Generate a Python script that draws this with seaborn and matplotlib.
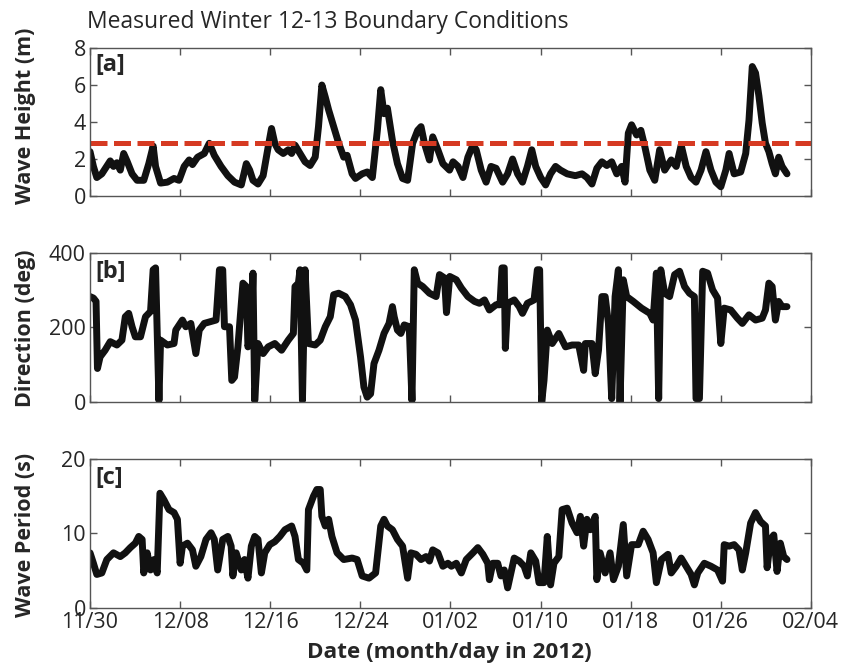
import numpy as np
import pandas as pd
import matplotlib
matplotlib.use("Agg")
import matplotlib.pyplot as plt
import seaborn as sns

# Days since 11/30 and measured values
hs_day = [0.00, 0.31, 0.62, 1.08, 1.85, 2.15, 2.46, 2.77, 3.08, 3.38, 3.85, 4.31, 4.92, 5.38,
          5.78, 6.00, 6.46, 7.08, 7.69, 8.15, 8.62, 9.08, 9.38, 9.85, 10.46, 10.92, 11.38,
          12.00, 12.62, 13.23, 13.85, 14.31, 14.62, 14.92, 15.38, 15.85, 16.31, 16.62, 16.92,
          17.23, 17.69, 18.15, 18.46, 18.77, 19.23, 19.69, 20.15, 20.62, 20.92, 21.23, 21.54,
          21.85, 22.31, 22.77, 23.23, 23.54, 24.00, 24.31, 24.92, 25.38, 25.85, 26.31, 26.62,
          26.92, 27.23, 27.69, 28.15, 28.62, 29.08, 29.54, 30.00, 30.31, 30.62, 31.08, 31.38,
          31.85, 32.31, 32.92,
          33.24, 33.70, 34.15, 34.60, 35.06, 35.36, 35.82, 36.27, 36.72, 37.18, 37.78, 38.24,
          38.69, 39.15, 39.60, 40.05, 40.45, 40.81, 41.27, 41.72, 42.17, 42.63, 43.08, 43.69,
          44.44, 45.05, 45.50, 45.96, 46.41, 46.87, 47.32, 47.77, 48.23, 48.68, 48.99, 49.29,
          49.59, 50.05, 50.44, 50.81, 51.26, 51.71, 52.16, 52.62, 53.22, 53.68, 54.13, 54.59,
          55.04, 55.49, 55.95, 56.40, 56.86, 57.31, 57.76, 58.22, 58.52, 58.98, 59.58, 60.04,
          60.34, 60.64, 60.94, 61.25, 61.55, 61.85, 62.16, 62.46, 62.76, 63.06, 63.37, 63.82]
hs_m = [2.4, 1.6, 1.0, 1.2, 1.9, 1.6, 1.8, 1.4, 2.3, 1.9, 1.2, 0.85, 0.85, 1.75,
        2.7, 1.6, 0.7, 0.75, 0.95, 0.85, 1.6, 1.95, 1.7, 2.1, 2.3, 2.85, 2.2,
        1.6, 1.1, 0.75, 0.6, 1.75, 1.4, 0.85, 0.65, 1.1, 2.65, 3.65, 2.85,
        2.5, 2.3, 2.5, 2.3, 2.75, 2.3, 1.85, 1.65, 2.1, 3.75, 6.0, 5.35,
        4.65, 3.75, 2.85, 2.1, 2.2, 1.2, 0.95, 1.2, 1.3, 1.0, 3.55, 5.75,
        4.45, 4.75, 3.0, 1.75, 0.95, 0.85, 2.85, 3.55, 3.75, 2.85, 1.95, 3.2,
        2.5, 1.75, 1.4,
        1.85, 1.6, 1.0, 2.1, 2.75, 2.5, 1.4, 0.75, 1.6, 1.5, 0.75, 1.2,
        2.0, 1.2, 0.75, 1.6, 2.5, 1.6, 1.0, 0.6, 1.2, 1.6, 1.4, 1.2,
        1.1, 1.2, 1.0, 0.65, 1.5, 1.85, 1.65, 1.85, 1.2, 1.6, 0.75, 3.4,
        3.85, 3.3, 3.55, 2.65, 1.4, 0.85, 2.5, 1.4, 1.95, 1.6, 2.75, 1.6,
        1.0, 0.75, 1.4, 2.4, 1.4, 0.75, 0.5, 1.4, 2.3, 1.2, 1.3, 2.3,
        4.1, 7.0, 6.65, 5.4, 3.95, 2.85, 2.4, 1.75, 1.2, 2.1, 1.6, 1.2]

dir_day = [0.00, 0.31, 0.55, 0.68, 0.92, 1.38, 1.85, 2.46, 2.92, 3.23, 3.54, 3.85, 4.15, 4.62,
           5.08, 5.54, 5.78, 6.00, 6.15, 6.31, 6.46, 7.08, 7.69, 7.85, 8.46, 8.77, 9.23, 9.69,
           10.00, 10.46, 11.08, 11.54, 11.85, 12.15, 12.31, 12.77, 12.98, 13.23, 13.54, 14.00,
           14.31, 14.46, 14.77, 14.92, 15.08, 15.38, 15.85, 16.31, 16.92, 17.54, 18.15, 18.62,
           18.77, 19.08, 19.23, 19.45, 19.69, 20.00, 20.62, 21.08, 21.54, 22.00, 22.31, 22.77,
           23.38, 23.85, 24.31, 24.77, 25.08, 25.38, 25.69, 26.00, 26.46, 26.92, 27.38, 27.69,
           27.85, 28.15, 28.46, 28.77, 29.23, 29.48, 29.69, 30.00, 30.46, 31.08, 31.69, 32.00,
           32.46, 32.64, 32.94,
           33.54, 34.00, 34.60, 35.21, 35.66, 36.12, 36.57, 37.18, 37.54, 37.72, 37.93, 38.03,
           38.24, 38.84, 39.30, 39.60, 40.05, 40.66, 40.96, 41.17, 41.36, 41.57, 41.87, 42.32,
           42.93, 43.54, 44.14, 44.75, 45.20, 45.35, 45.96, 46.26, 46.56, 46.87, 47.17, 47.47,
           47.77, 48.08, 48.38, 48.53, 48.83, 49.14, 49.74, 50.50, 51.26, 51.56, 51.86, 52.07,
           52.26, 52.62, 53.07, 53.53, 53.98, 54.44, 54.89, 55.34, 55.49, 55.80, 56.10, 56.55,
           57.01, 57.46, 57.76, 58.07, 58.67, 59.28, 59.73, 60.34, 60.94, 61.55, 61.85, 62.16,
           62.46, 62.76, 63.06, 63.37, 63.82]
dir_deg = [283, 279, 270, 90, 121, 139, 162, 153, 166, 229, 238, 202, 175, 175,
           229, 243, 355, 360, 193, 4, 166, 153, 157, 193, 220, 202, 211, 130,
           193, 211, 216, 220, 355, 355, 202, 202, 58, 67, 148, 319,
           310, 148, 193, 346, 4, 157, 130, 148, 157, 139, 166, 184,
           310, 319, 355, 4, 355, 157, 153, 166, 202, 229, 288, 292,
           283, 261, 220, 121, 40, 13, 22, 103, 139, 184, 211, 256,
           229, 193, 184, 207, 202, 4, 355, 319, 310, 292, 283, 342,
           333, 240, 337,
           328, 306, 283, 270, 265, 274, 247, 261, 261, 360, 360, 144,
           265, 274, 256, 238, 265, 274, 355, 355, 0, 58, 193, 157,
           184, 148, 153, 153, 85, 157, 157, 76, 139, 283, 283, 211,
           9, 283, 355, 0, 328, 283, 270, 252, 238, 220, 346, 9,
           355, 292, 283, 342, 351, 310, 292, 283, 9, 9, 351, 346,
           301, 279, 157, 252, 247, 225, 211, 234, 220, 225, 247, 319,
           310, 220, 270, 256, 256]

tp_day = [0.00, 0.31, 0.62, 1.08, 1.54, 2.15, 2.77, 3.23, 3.69, 4.15, 4.46, 4.77, 4.92, 5.23,
          5.54, 5.85, 6.15, 6.40, 6.77, 7.23, 7.69, 8.00, 8.25, 8.46, 8.92, 9.38, 9.69, 10.15,
          10.62, 11.08, 11.38, 11.69, 12.15, 12.62, 12.92, 13.08, 13.38, 13.85, 14.15, 14.46,
          14.77, 15.08, 15.38, 15.69, 16.00, 16.46, 16.92, 17.38, 17.85, 18.46, 18.77, 19.08,
          19.54, 19.85, 20.00, 20.46, 20.77, 21.08, 21.23, 21.54, 21.85, 22.15, 22.62, 23.23,
          24.00, 24.46, 24.92, 25.54, 26.15, 26.62, 26.92, 27.23, 27.69, 28.15, 28.62, 29.08,
          29.38, 29.85, 30.31, 30.77, 31.08, 31.38, 31.85, 32.31, 32.77,
          33.09, 33.54, 34.00, 34.45, 35.06, 35.51, 35.97, 36.42, 36.57, 36.88, 37.33, 37.63,
          37.93, 38.24, 38.54, 38.84, 39.30, 39.75, 40.05, 40.36, 40.81, 41.11, 41.57, 41.87,
          42.17, 42.48, 42.93, 43.23, 43.69, 44.14, 44.60, 44.90, 45.20, 45.50, 45.81, 46.26,
          46.41, 46.71, 47.17, 47.62, 47.93, 48.38, 48.83, 49.14, 49.59, 50.20, 50.65, 51.10,
          51.56, 51.86, 52.32, 52.92, 53.22, 53.68, 54.13, 54.59, 55.04, 55.34, 55.65, 56.25,
          56.86, 57.46, 57.92, 58.07, 58.52, 58.98, 59.43, 59.73, 60.04, 60.49, 60.94, 61.40,
          61.85, 62.00, 62.31, 62.61, 62.91, 63.21, 63.52, 63.82]
tp_s = [7.4, 6.0, 4.5, 4.7, 6.5, 7.4, 6.9, 7.4, 8.1, 8.7, 9.6, 9.2, 4.7, 7.4,
        5.1, 6.5, 4.7, 15.4, 14.5, 13.2, 12.8, 11.9, 6.0, 8.3, 8.7, 7.8, 5.6, 6.9,
        9.2, 10.1, 9.2, 5.1, 9.2, 9.6, 8.3, 4.3, 7.4, 5.1, 6.5, 4.0,
        8.3, 9.6, 9.2, 4.7, 7.4, 8.5, 8.9, 9.6, 10.5, 11.0, 9.6, 6.5,
        6.0, 5.1, 13.2, 15.0, 15.9, 15.9, 12.3, 11.0, 11.9, 9.6, 7.4, 6.5,
        6.7, 6.5, 4.3, 4.0, 4.7, 11.0, 11.9, 11.0, 10.5, 9.2, 8.3, 4.0,
        7.4, 7.2, 6.5, 6.9, 6.3, 7.8, 7.4, 5.6, 6.0,
        5.6, 6.0, 4.7, 6.5, 7.4, 8.1, 7.2, 6.0, 3.8, 6.0, 6.0, 4.3,
        5.1, 2.7, 4.7, 6.7, 6.3, 5.6, 4.3, 7.4, 6.3, 3.4, 3.4, 9.6,
        3.1, 6.0, 6.9, 13.2, 13.4, 11.4, 10.1, 12.3, 8.3, 11.9, 10.5, 12.3,
        3.8, 7.4, 4.7, 7.4, 3.8, 5.6, 11.2, 4.3, 8.5, 8.5, 10.3, 9.2,
        7.4, 3.4, 6.5, 7.2, 4.7, 5.6, 6.7, 5.6, 4.5, 3.1, 4.7, 6.0,
        5.6, 5.1, 3.6, 8.5, 8.3, 8.5, 7.8, 5.1, 7.4, 11.4, 12.8, 11.6,
        11.0, 5.4, 9.2, 9.8, 4.9, 8.7, 6.9, 6.5]

hs_threshold = 2.85
date_labels = ["11/30", "12/08", "12/16", "12/24", "01/02", "01/10", "01/18", "01/26", "02/04"]
span_days = 66

sns.set_style("ticks")
plt.rcParams["font.family"] = ["Open Sans", "DejaVu Sans"]

fig = plt.figure(figsize=(8.43, 6.67), dpi=100)
left, width = 0.1068, 0.855
axes = [fig.add_axes([left, 0.7061, width, 0.2219]),
        fig.add_axes([left, 0.3973, width, 0.2234]),
        fig.add_axes([left, 0.0885, width, 0.2234])]

panels = [
    (hs_day, hs_m, (0, 8), [0, 2, 4, 6, 8], "Wave Height (m)", "[a]", 0.965, 0.826),
    (dir_day, dir_deg, (0, 400), [0, 200, 400], "Direction (deg)", "[b]", 0.95, 0.508),
    (tp_day, tp_s, (0, 20), [0, 10, 20], "Wave Period (s)", "[c]", 0.95, 0.198),
]

xticks = np.linspace(0, span_days, len(date_labels))
for i, (ax, (d, v, ylim, yticks, ylab, tag, tag_y, lab_y)) in enumerate(zip(axes, panels)):
    df = pd.DataFrame({"day": d, "value": v})
    sns.lineplot(data=df, x="day", y="value", ax=ax, color="#111111", linewidth=5.0,
                 estimator=None, sort=False, solid_joinstyle="round")
    ax.set_xlim(0, span_days)
    ax.set_ylim(*ylim)
    ax.set_yticks(yticks)
    ax.set_xticks(xticks)
    if i == 2:
        ax.set_xticklabels(date_labels)
    else:
        ax.set_xticklabels([])
    ax.set_xlabel("")
    ax.set_ylabel("")
    ax.tick_params(direction="in", top=True, right=True, length=5, width=1,
                   color="#555555", labelsize=15.5, pad=3)
    for s in ax.spines.values():
        s.set_color("#555555")
        s.set_linewidth(1.0)
    ax.text(0.008, tag_y, tag, transform=ax.transAxes, ha="left", va="top",
            fontsize=17, fontweight="bold")
    fig.text(0.03, lab_y, ylab, rotation=90, ha="center", va="center",
             fontsize=15.5, fontweight="bold")

axes[0].axhline(hs_threshold, color="#d63a22", linewidth=3.6, linestyle=(0, (3.4, 1.3)))

fig.text(0.103, 0.967, "Measured Winter 12-13 Boundary Conditions", ha="left", va="center",
         fontsize=16.5)
fig.text(0.533, 0.021, "Date (month/day in 2012)", ha="center", va="center",
         fontsize=16.2, fontweight="bold")

fig.savefig("out.png", dpi=100)
